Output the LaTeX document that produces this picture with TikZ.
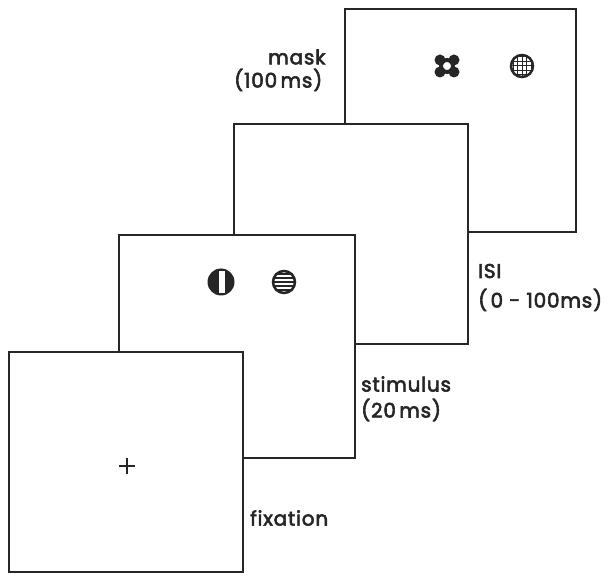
\documentclass[tikz,border=0pt]{standalone}
\usepackage{fontspec}
\setmainfont{Poppins}
\newfontfamily\lblfont[FakeBold=3,LetterSpace=4]{Poppins}
\begin{document}
\begin{tikzpicture}[x=1pt,y=-1pt,
  frame/.style={draw=black!85,line width=2.6pt,fill=white},
  lbl/.style={anchor=west,font=\lblfont\fontsize{20}{23}\selectfont,inner sep=0pt,align=left,text=black!85}]
\useasboundingbox (0,0) rectangle (616,577);
% frames back to front
\path[frame] (345,9) rectangle (576,232);
\path[frame] (234,124) rectangle (468,344);
\path[frame] (119,235) rectangle (355,458);
\path[frame] (9,352) rectangle (243,572);
% labels
\node[lbl] (mask) at (268,57) {mask};
\node[lbl] (maskt) at (234,80) {(100\,ms)};
\node[lbl] (isi) at (478,271) {ISI};
\node[lbl] (isit) at (478,300) {(\,0 - 100ms)};
\node[lbl] (stim) at (361,384) {stimulus};
\node[lbl] (stimt) at (361,410) {(20\,ms)};
\node[lbl] (fix) at (250,518) {fixation};
% fixation cross
\draw[line width=1.4pt,black!85] (119,466) -- (135,466) (127,458) -- (127,474);
% stimulus: vertical bar disk
\fill[black!85] (221,282) circle (13.5);
\fill[white] (218.5,271) rectangle (224.5,293);
% stimulus: horizontal grating
\begin{scope}
\clip (284,282) circle (11);
\foreach \yy in {-8,-4,0,4,8} \draw[line width=1.4pt,black!85] (270,282+\yy) -- (298,282+\yy);
\end{scope}
\draw[line width=2.5pt,black!85] (284,282) circle (11);
% mask: blob cluster
\draw[line width=4pt,black!85] (447,66) circle (6);
\foreach \dx/\dy in {-7/-6,7/-6,-7/6,7/6} \fill[black!85] (447+\dx,66+\dy) circle (5.5);
% mask: grid disk
\begin{scope}
\clip (522,66) circle (11);
\foreach \d in {-9,-4.5,0,4.5,9} {
 \draw[line width=1pt,black!85] (510,66+\d) -- (534,66+\d);
 \draw[line width=1pt,black!85] (522+\d,54) -- (522+\d,78);
}
\end{scope}
\draw[line width=2.5pt,black!85] (522,66) circle (11);
\end{tikzpicture}
\end{document}
